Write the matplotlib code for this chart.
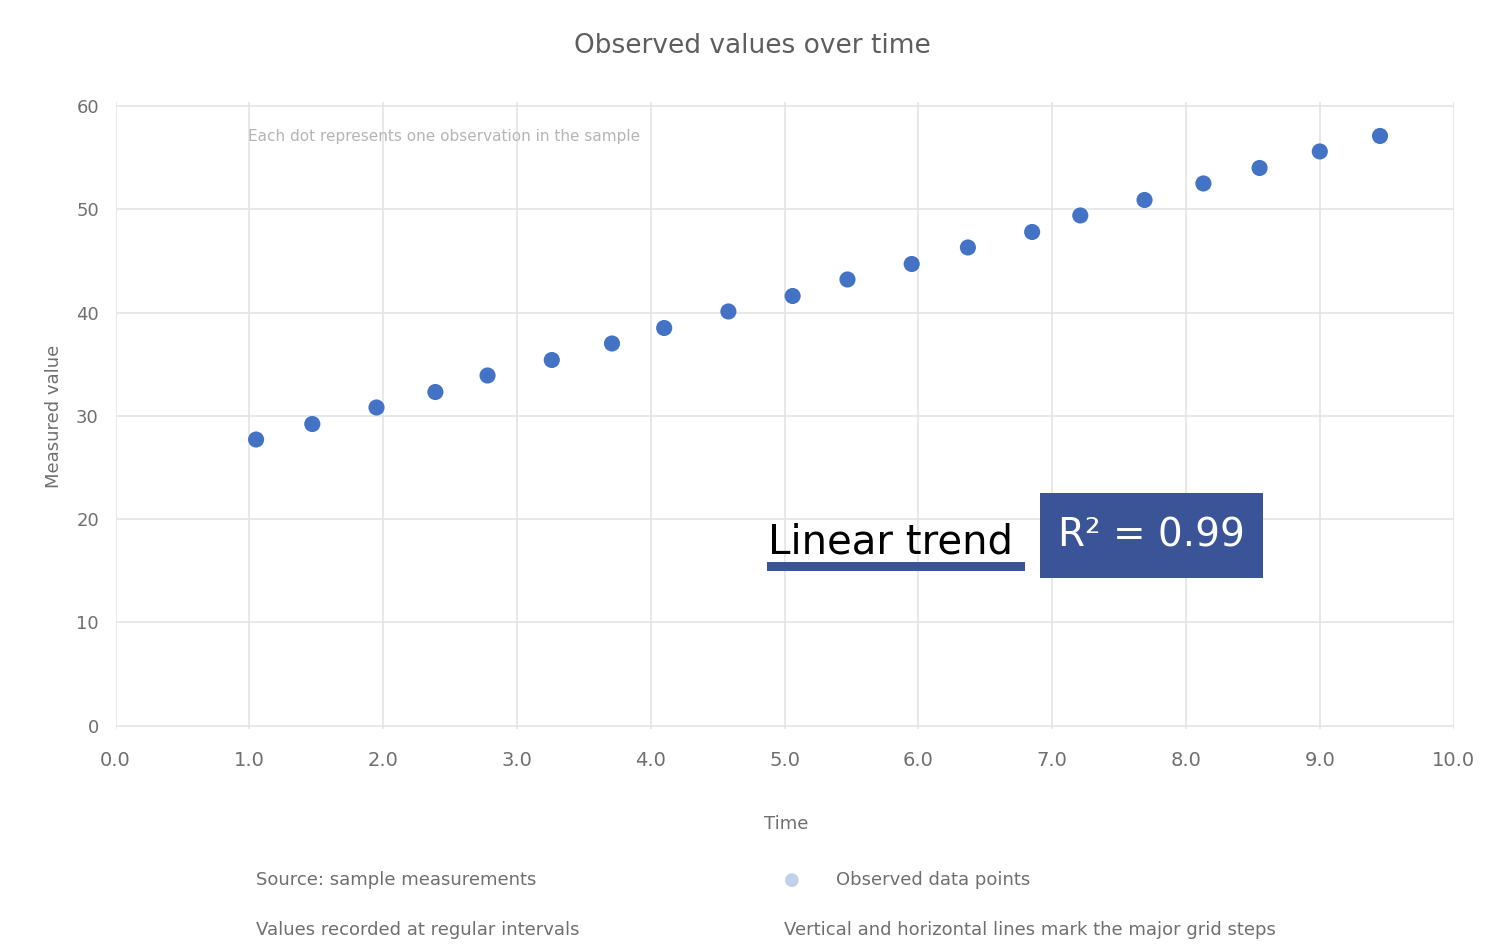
import matplotlib
matplotlib.use("Agg")
import matplotlib.pyplot as plt
from matplotlib.patches import Rectangle

# Data
x_values = [1.05, 1.47, 1.95, 2.39, 2.78, 3.26, 3.71, 4.10, 4.58, 5.06,
            5.47, 5.95, 6.37, 6.85, 7.21, 7.69, 8.13, 8.55, 9.00, 9.45]
y_values = [27.7, 29.2, 30.8, 32.3, 33.9, 35.4, 37.0, 38.5, 40.1, 41.6,
            43.2, 44.7, 46.3, 47.8, 49.4, 50.9, 52.5, 54.0, 55.6, 57.1]
x_ticks = [0, 1, 2, 3, 4, 5, 6, 7, 8, 9, 10]
x_tick_labels = ["0.0", "1.0", "2.0", "3.0", "4.0", "5.0",
                 "6.0", "7.0", "8.0", "9.0", "10.0"]
y_ticks = [0, 10, 20, 30, 40, 50, 60]
y_tick_labels = ["0", "10", "20", "30", "40", "50", "60"]

W, H = 1500, 952
POINT_BLUE = "#4472C4"
BADGE_BLUE = "#3B5498"
GREY = "#6f6f6f"

# plot area in pixels (from the reference)
AX_L, AX_R, AX_T, AX_B = 115.6, 1453.6, 101.9, 728.6

fig = plt.figure(figsize=(W / 100, H / 100), dpi=100)
fig.patch.set_facecolor("white")
ax = fig.add_axes([AX_L / W, 1 - AX_B / H, (AX_R - AX_L) / W,
                   (AX_B - AX_T) / H])


def ax_frac(px, py):
    # pixel position in the picture -> axes fraction
    return (px - AX_L) / (AX_R - AX_L), (AX_B - py) / (AX_B - AX_T)


ax.scatter(x_values, y_values, s=135, color=POINT_BLUE, edgecolors="none",
           zorder=3)

ax.set_xlim(x_ticks[0], x_ticks[-1])
ax.set_ylim(-0.3, 60.4)
ax.set_xticks(x_ticks)
ax.set_xticklabels(x_tick_labels)
ax.set_yticks(y_ticks)
ax.set_yticklabels(y_tick_labels)
ax.tick_params(axis="x", length=0, pad=16, labelsize=14, labelcolor=GREY)
ax.tick_params(axis="y", length=0, pad=12, labelsize=13, labelcolor=GREY)

ax.grid(True, color="#e4e4e4", linewidth=1.2, zorder=0)
ax.set_axisbelow(True)
for side in ax.spines.values():
    side.set_visible(False)

# small note near the top left of the plot area
nx, ny = ax_frac(248, 136)
ax.text(nx, ny, "Each dot represents one observation in the sample",
        transform=ax.transAxes, ha="left", va="center", fontsize=11,
        color="#b5b5b5")

# fit label with a blue underline, then the blue badge
tx, ty = ax_frac(768, 553)
ax.text(tx, ty, "Linear trend", transform=ax.transAxes, ha="left",
        va="baseline", fontsize=29, color="black", zorder=4)
ux0, uy0 = ax_frac(767, 571)
ux1, uy1 = ax_frac(1025, 562)
ax.add_patch(Rectangle((ux0, uy0), ux1 - ux0, uy1 - uy0,
                       transform=ax.transAxes, facecolor=BADGE_BLUE,
                       edgecolor="none", zorder=4))
bx0, by0 = ax_frac(1040, 578)
bx1, by1 = ax_frac(1263, 493)
ax.add_patch(Rectangle((bx0, by0), bx1 - bx0, by1 - by0,
                       transform=ax.transAxes, facecolor=BADGE_BLUE,
                       edgecolor="none", zorder=4))
ax.text((bx0 + bx1) / 2, (by0 + by1) / 2, "R² = 0.99",
        transform=ax.transAxes, ha="center", va="center", fontsize=28,
        color="white", zorder=5)

# title and axis labels
fig.text(752 / W, 1 - 46 / H, "Observed values over time", ha="center",
         va="center", fontsize=19, color="#5e5e5e")
fig.text(54 / W, 1 - 416 / H, "Measured value", rotation=90, ha="center",
         va="center", fontsize=13, color=GREY)
fig.text(786 / W, 1 - 824 / H, "Time", ha="center", va="center",
         fontsize=13, color=GREY)

# notes under the chart
fig.text(256 / W, 1 - 880 / H, "Source: sample measurements", ha="left",
         va="center", fontsize=13, color=GREY)
fig.text(784 / W, 1 - 880 / H, "●", ha="left", va="center", fontsize=13,
         color="#c3d0ea")
fig.text(836 / W, 1 - 880 / H, "Observed data points", ha="left",
         va="center", fontsize=13, color=GREY)
fig.text(256 / W, 1 - 930 / H, "Values recorded at regular intervals",
         ha="left", va="center", fontsize=13, color=GREY)
fig.text(784 / W, 1 - 930 / H,
         "Vertical and horizontal lines mark the major grid steps",
         ha="left", va="center", fontsize=13, color=GREY)

fig.savefig("out.png", dpi=100, facecolor="white")
plt.close(fig)
